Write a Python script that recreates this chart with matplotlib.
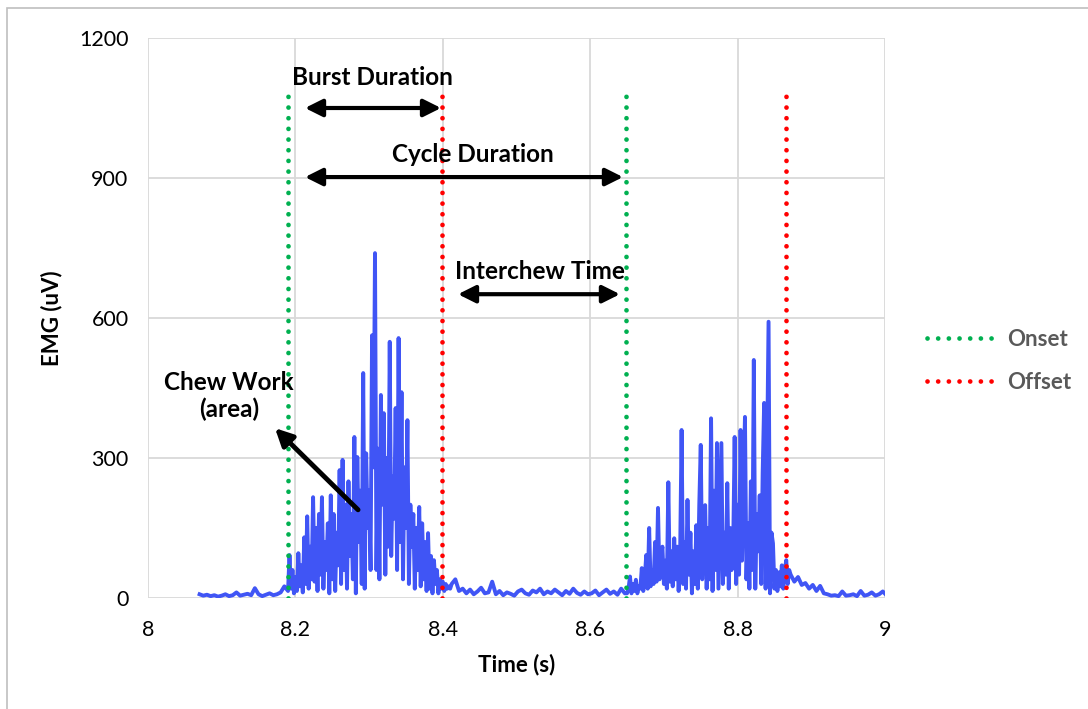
import numpy as np
import matplotlib.pyplot as plt
from matplotlib.lines import Line2D
from matplotlib.patches import Rectangle

plt.rcParams['font.family'] = ['Lato', 'DejaVu Sans']

# EMG samples
pre_start, pre_step = 8.070, 0.005
emg_pre = [8, 5, 7, 4, 6, 3, 5, 8, 4, 6, 12, 5, 7, 9, 6, 21, 8, 4, 7, 10, 6, 8, 12, 25]

burst1_start, burst_step = 8.190, 0.002
emg_burst1 = [15, 92, 20, 60, 10, 45, 15, 96, 25, 70, 12, 130, 30, 175, 20, 110, 40, 216, 35, 150,
              15, 180, 50, 216, 20, 120, 60, 160, 10, 220, 40, 180, 15, 140, 70, 274, 30, 296, 60, 200,
              20, 250, 90, 180, 40, 345, 10, 302, 120, 230, 30, 482, 20, 310, 150, 231, 60, 563, 280, 739,
              60, 320, 40, 435, 200, 396, 50, 300, 110, 549, 90, 260, 170, 407, 60, 557, 120, 441, 40, 280,
              150, 381, 30, 200, 110, 180, 20, 150, 60, 195, 25, 160, 40, 120, 15, 139, 20, 90, 10, 81,
              30, 60, 10, 40, 20, 35, 15, 30, 20, 25, 20]

mid_start, mid_step = 8.412, 0.005
emg_mid = [30, 40, 15, 20, 10, 18, 8, 14, 22, 10, 12, 35, 8, 15, 6, 12, 9, 5, 14, 18, 10, 7, 16, 12,
           20, 8, 14, 10, 18, 12, 6, 15, 9, 20, 11, 7, 14, 8, 10, 16, 6, 12, 18, 9, 14, 7, 20, 10]

burst2_start = 8.650
emg_burst2 = [10, 20, 46, 10, 30, 15, 39, 10, 25, 20, 64, 15, 40, 92, 20, 150, 25, 60, 30, 120,
              35, 193, 40, 90, 110, 30, 80, 20, 248, 35, 100, 25, 128, 40, 110, 15, 90, 360, 30, 120,
              20, 210, 50, 140, 10, 100, 30, 156, 20, 200, 328, 40, 120, 199, 20, 150, 40, 385, 15, 230,
              60, 332, 20, 180, 332, 30, 140, 50, 246, 20, 150, 60, 110, 345, 30, 200, 50, 360, 80, 250,
              388, 40, 160, 20, 250, 60, 510, 20, 180, 100, 220, 30, 268, 418, 20, 300, 592, 10, 140, 117,
              20, 60, 15, 55, 25, 70, 20, 60, 81, 30, 60]

post_start, post_step = 8.872, 0.005
emg_post = [50, 35, 45, 28, 32, 20, 28, 15, 26, 10, 8, 5, 6, 4, 14, 5, 6, 8, 4, 15, 5, 7, 12, 5, 8, 14, 6]

onsets = [8.190, 8.649]
offsets = [8.399, 8.866]
marker_top = 1080

def seg_time(start, step, vals):
    return start + step * np.arange(len(vals))

t = np.concatenate([seg_time(pre_start, pre_step, emg_pre),
                    seg_time(burst1_start, burst_step, emg_burst1),
                    seg_time(mid_start, mid_step, emg_mid),
                    seg_time(burst2_start, burst_step, emg_burst2),
                    seg_time(post_start, post_step, emg_post)])
emg = np.concatenate([emg_pre, emg_burst1, emg_mid, emg_burst2, emg_post])

fig = plt.figure(figsize=(10.88, 7.09), dpi=100)
ax = fig.add_axes([148/1088, 1-598/709, (885-148)/1088, (598-38)/709])

ax.plot(t, emg, color='#4055F5', lw=2.8, zorder=2, solid_joinstyle='round')

dot = dict(lw=3.4, linestyle=(0, (0.01, 2.25)), dash_capstyle='round', zorder=3)
for x in onsets:
    ax.plot([x, x], [0, marker_top], color='#00B050', **dot)
for x in offsets:
    ax.plot([x, x], [0, marker_top], color='#FF0000', **dot)

ax.set_xlim(8, 9)
ax.set_ylim(0, 1200)
ax.set_xticks(np.arange(8, 9.01, 0.2))
ax.set_xticklabels(['8', '8.2', '8.4', '8.6', '8.8', '9'])
ax.set_yticks(np.arange(0, 1201, 300))
ax.grid(True, color='#D9D9D9', lw=1.3, zorder=0)
ax.set_axisbelow(True)
for s in ax.spines.values():
    s.set_visible(False)
ax.tick_params(length=0, labelsize=15.5, pad=14)
ax.tick_params(axis='x', pad=16)
ax.set_xlabel('Time (s)', fontsize=16, fontweight='bold', labelpad=10)
ax.set_ylabel('EMG (uV)', fontsize=16, fontweight='bold', labelpad=12)

arrow2 = dict(arrowstyle='<|-|>', lw=3, color='black', mutation_scale=26, shrinkA=0, shrinkB=0)
ax.annotate('', xy=(8.3976, 1050), xytext=(8.213, 1050), arrowprops=arrow2, zorder=4)
ax.annotate('', xy=(8.6445, 902), xytext=(8.213, 902), arrowprops=arrow2, zorder=4)
ax.annotate('', xy=(8.6404, 651), xytext=(8.4206, 651), arrowprops=arrow2, zorder=4)
ax.annotate('', xy=(8.1723, 364), xytext=(8.285, 189),
            arrowprops=dict(arrowstyle='-|>', lw=3.5, color='black', mutation_scale=26,
                            shrinkA=0, shrinkB=0), zorder=4)

txt = dict(fontsize=17.5, fontweight='bold', ha='center', va='center', zorder=5)
ax.text(8.305, 1116, 'Burst Duration', **txt)
ax.text(8.441, 951, 'Cycle Duration', **txt)
ax.text(8.532, 699, 'Interchew Time', **txt)
ax.text(8.110, 433, 'Chew Work\n(area)', linespacing=1.2, **txt)

handles = [Line2D([], [], color='#00B050', **dot), Line2D([], [], color='#FF0000', **dot)]
fig.legend(handles, ['Onset', 'Offset'], loc='center left', bbox_to_anchor=(0.834, 0.491),
           frameon=False, handlelength=3.2, handletextpad=0.4, labelspacing=1.0,
           prop=dict(family='Lato', size=16, weight='bold'), labelcolor='#595959')

fig.add_artist(Rectangle((7/1088, -0.1), 1.2, 1.1 - 8/709, transform=fig.transFigure,
                         fill=False, edgecolor='#BFBFBF', lw=1.2))

fig.savefig('out.png', dpi=100)
